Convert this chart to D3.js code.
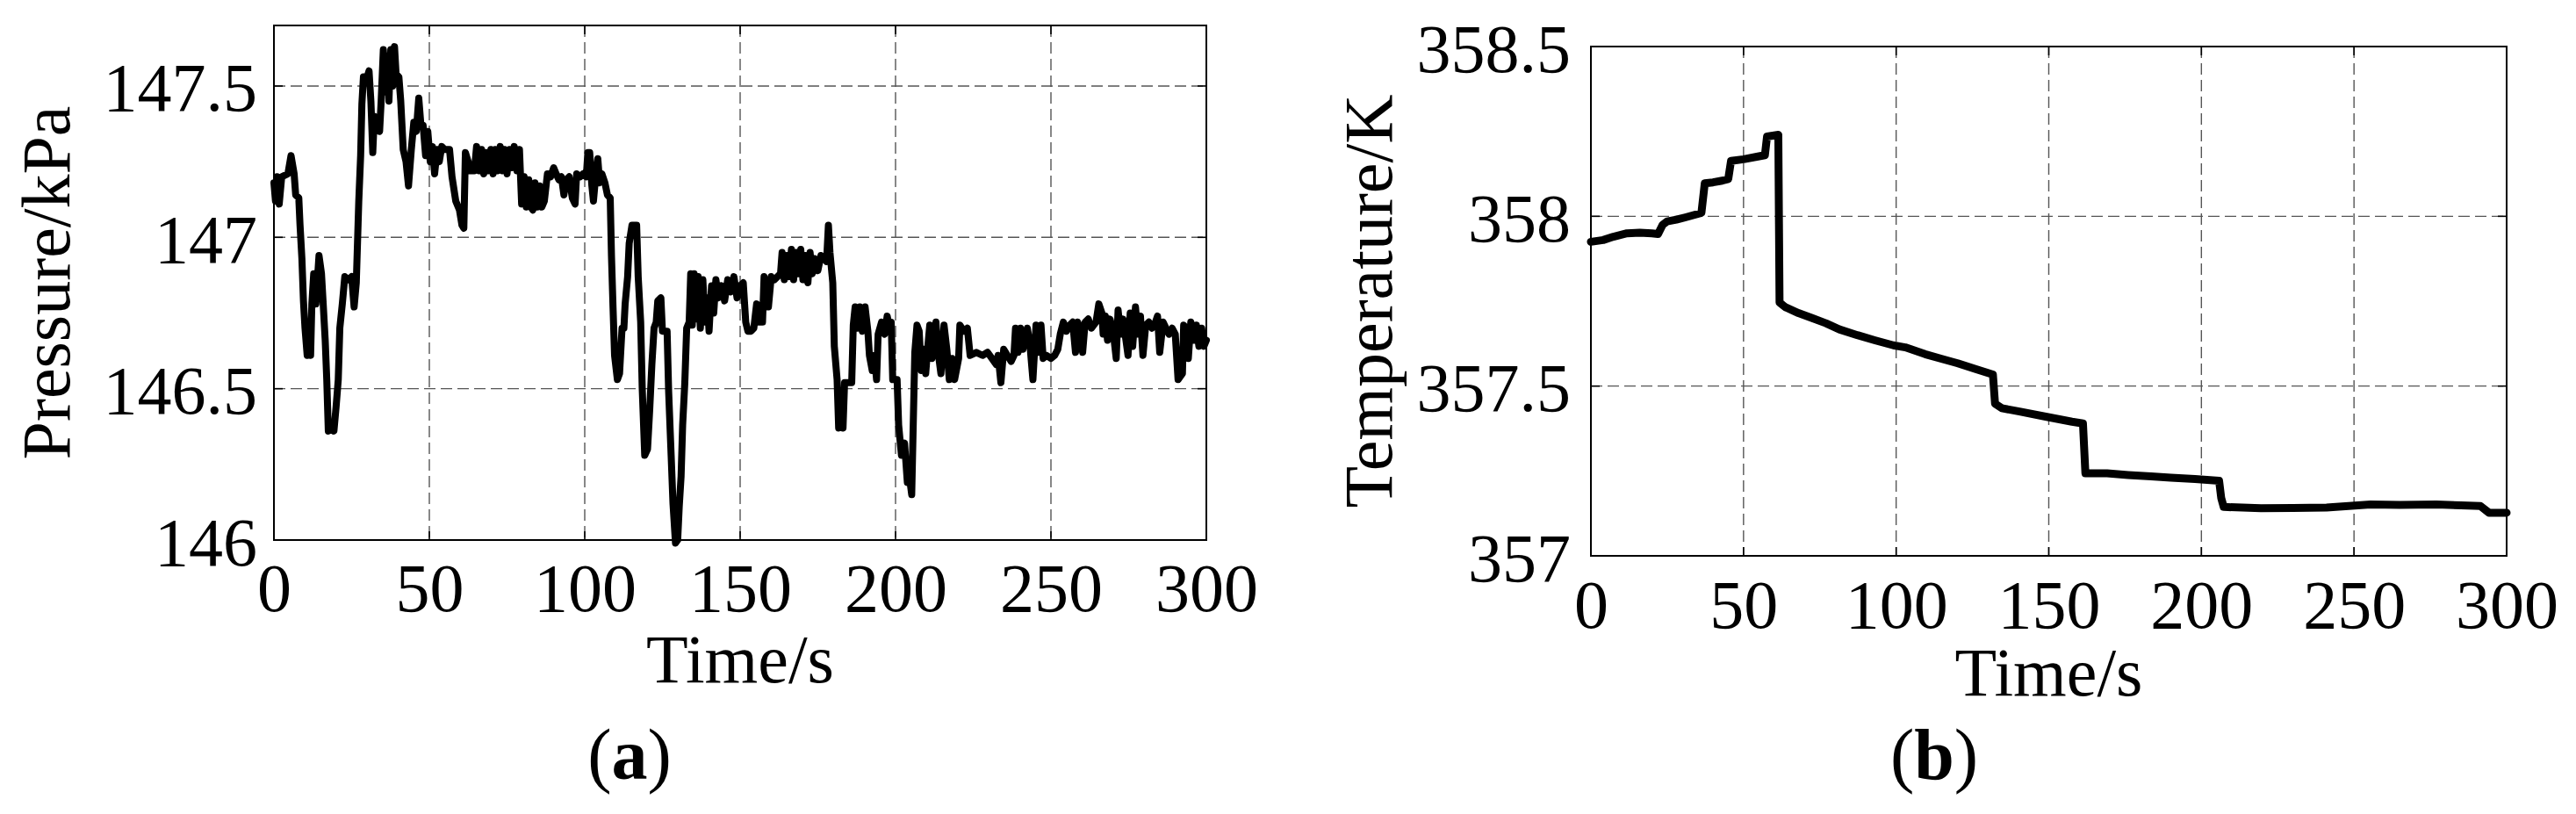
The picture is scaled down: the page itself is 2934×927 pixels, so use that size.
<!DOCTYPE html>
<html><head><meta charset="utf-8">
<script src="https://cdn.jsdelivr.net/npm/d3@7"></script>
<style>
body{margin:0;background:#fff}
svg{display:block}
text{font-family:"Liberation Serif","Times New Roman",serif;fill:#000}
</style>
</head><body>
<svg id="chart" width="2934" height="927"></svg>
<script>
// ---------- data ----------
const timeTicks = [0, 50, 100, 150, 200, 250, 300];
const timeTickLabels = ["0", "50", "100", "150", "200", "250", "300"];

const pressureTicks = [146, 146.5, 147, 147.5];
const pressureTickLabels = ["146", "146.5", "147", "147.5"];
const pressureRange = [146, 147.7];

const temperatureTicks = [357, 357.5, 358, 358.5];
const temperatureTickLabels = ["357", "357.5", "358", "358.5"];
const temperatureRange = [357, 358.5];

const pressureTimes = [0,0.5,1,1.7,2.5,4.5,5.5,6.5,7,8,8.4,9,9.5,10,10.7,11.3,11.8,12.2,12.8,13.5,14.5,15.3,15.8,16.5,17,17.5,18.5,19.3,20,20.7,21.2,22,22.8,24,25,25.8,26.5,27.3,27.9,28.3,28.8,30,30.6,31.2,31.8,32.3,33,34,34.5,35.2,36,36.5,37,37.6,38.2,38.8,39.3,40.2,40.8,41.6,42.5,43.3,44.2,45,45.8,46.6,47.3,48,48.8,49.5,50.3,51,51.7,52.5,53.2,54,55,56.5,57.3,58.5,59.7,60.5,61.1,61.6,62.5,63,64.5,65.2,66,66.8,67.5,68.2,69,69.8,70.5,71.2,72,72.8,73.5,74.2,75,75.8,76.5,77.3,78.2,79,79.7,80.5,81.2,82,82.7,83.3,84,84.7,85.5,86.2,87,88,89,90,90.8,91.7,92.5,93.3,94,95,96,96.9,97.4,98.5,99.5,100.5,101,101.6,102.3,102.8,103.5,104.2,104.8,105.5,106.5,107.3,108.2,108.6,109.1,109.6,110.5,111.2,112,112.6,113,113.8,114.3,115.2,116.7,117.2,118,118.5,119.3,120.2,120.9,121.6,122.3,123,123.5,124.5,125,126.5,127,127.8,128.4,129.2,129.9,130.4,131,131.5,132.2,132.8,133.6,134.1,134.6,135.2,135.8,136.5,137.2,138,138.7,139.4,140,140.8,141.5,142.2,143,144,145,146,147,148,149,150,151,151.8,152.5,153.5,154.4,155.3,156,157.2,157.7,158.5,159.1,160,161,162,163,163.5,164.2,165,165.8,166.5,167.2,168,168.8,169.5,170.2,171,171.8,172.5,173.2,174,175,176,177,177.8,178.4,178.9,179.8,180.3,181.2,181.7,182.4,183.1,183.6,185.9,186.4,187,187.8,188.5,189.3,190.2,191.1,191.6,192.5,193.2,193.9,194.4,195.5,196.5,197.3,198.1,198.6,199.1,200.5,201,201.9,202.9,203.8,204.7,205.2,206.2,206.9,207.6,208.3,209,209.7,210.4,211,211.7,212.4,213,213.7,214.6,215.6,216.5,217.3,218.2,219,220.3,220.7,222,223.1,224,226,228,229.6,231,232.4,233,233.9,234.8,236,237.2,238.1,238.6,239.4,240.2,241,242.4,243.2,244.2,245.2,246,246.8,247.5,248.5,250,251.2,252.2,253,254,255,256,257,257.9,258.6,259.3,260.2,261,262,263,264.5,265.4,266.4,266.8,267.5,268.2,269,270,271,271.6,272.4,273.2,274.8,275.5,276.3,277.2,278,278.8,279.6,280.5,281.5,282.5,283.3,284.3,285,286.1,287,288,289,290,290.9,292.3,292.7,293.5,294.2,295,296,296.8,297.6,298.5,299.2,300];
const pressureValues = [147.18,147.12,147.2,147.11,147.2,147.21,147.27,147.21,147.14,147.13,147.04,146.93,146.79,146.7,146.61,146.7,146.61,146.78,146.88,146.78,146.94,146.88,146.79,146.66,146.53,146.36,146.38,146.36,146.44,146.53,146.7,146.78,146.87,146.86,146.87,146.77,146.85,147.12,147.27,147.44,147.53,147.53,147.55,147.45,147.28,147.4,147.37,147.35,147.45,147.62,147.48,147.6,147.45,147.62,147.5,147.63,147.54,147.53,147.45,147.29,147.25,147.17,147.29,147.38,147.35,147.46,147.37,147.37,147.27,147.35,147.25,147.3,147.21,147.29,147.25,147.3,147.29,147.29,147.2,147.12,147.09,147.04,147.03,147.28,147.25,147.22,147.22,147.3,147.22,147.29,147.21,147.28,147.22,147.29,147.21,147.29,147.22,147.3,147.22,147.29,147.21,147.29,147.23,147.3,147.22,147.29,147.11,147.2,147.1,147.19,147.1,147.09,147.18,147.1,147.17,147.1,147.12,147.21,147.2,147.23,147.21,147.19,147.2,147.14,147.19,147.2,147.13,147.11,147.21,147.2,147.21,147.2,147.28,147.28,147.17,147.12,147.2,147.26,147.18,147.21,147.18,147.14,147.13,146.94,146.77,146.61,146.53,146.55,146.7,146.7,146.78,146.87,146.98,147.04,147.04,146.87,146.72,146.5,146.28,146.3,146.43,146.58,146.7,146.72,146.79,146.8,146.69,146.69,146.49,146.28,146.12,145.99,146,146.11,146.21,146.38,146.52,146.7,146.72,146.88,146.71,146.88,146.73,146.87,146.7,146.86,146.72,146.8,146.69,146.84,146.75,146.86,146.8,146.84,146.79,146.86,146.82,146.87,146.8,146.84,146.85,146.72,146.69,146.69,146.7,146.78,146.72,146.72,146.87,146.84,146.77,146.87,146.86,146.87,146.88,146.95,146.86,146.94,146.87,146.96,146.86,146.95,146.88,146.96,146.86,146.94,146.85,146.95,146.88,146.93,146.89,146.94,146.93,146.92,147.04,146.95,146.85,146.64,146.53,146.37,146.45,146.37,146.52,146.52,146.71,146.77,146.7,146.77,146.69,146.77,146.69,146.61,146.56,146.61,146.53,146.68,146.72,146.68,146.74,146.7,146.72,146.53,146.53,146.38,146.28,146.32,146.19,146.19,146.15,146.62,146.71,146.69,146.56,146.63,146.55,146.64,146.71,146.6,146.66,146.72,146.62,146.55,146.71,146.63,146.53,146.6,146.53,146.6,146.71,146.69,146.7,146.61,146.62,146.61,146.62,146.6,146.58,146.61,146.52,146.63,146.61,146.59,146.61,146.7,146.62,146.7,146.63,146.7,146.65,146.53,146.71,146.62,146.71,146.6,146.61,146.6,146.61,146.63,146.68,146.72,146.69,146.71,146.72,146.62,146.72,146.7,146.62,146.72,146.73,146.7,146.72,146.78,146.75,146.68,146.74,146.66,146.73,146.69,146.6,146.76,146.68,146.73,146.61,146.75,146.64,146.77,146.68,146.74,146.61,146.71,146.72,146.7,146.71,146.74,146.62,146.72,146.7,146.68,146.7,146.68,146.53,146.55,146.71,146.7,146.6,146.72,146.66,146.71,146.64,146.7,146.64,146.66];

const temperatureTimes = [0,4,7.4,11.8,16,20,22,23.5,25,28,31,36.2,37.3,40,43,45,45.9,50,54.7,57,57.7,61.4,61.8,63.6,68,72.5,77,81.4,87.3,93,99.1,103,109.5,115,120.2,126,131.7,132.4,134.6,140.4,149,157.6,161.2,162,169.1,176,183.5,190,197.9,205.8,206.5,207.3,219.5,230,241,255.4,265,277,285,291.4,294.2,300];
const temperatureValues = [357.925,357.93,357.94,357.95,357.952,357.95,357.948,357.975,357.985,357.99,357.997,358.01,358.097,358.1,358.105,358.11,358.163,358.168,358.176,358.18,358.235,358.24,357.746,357.733,357.715,357.7,357.685,357.667,357.65,357.635,357.62,357.614,357.594,357.58,357.567,357.55,357.534,357.448,357.435,357.425,357.41,357.395,357.39,357.243,357.243,357.238,357.234,357.23,357.226,357.221,357.17,357.144,357.14,357.141,357.142,357.151,357.15,357.151,357.149,357.147,357.127,357.127];

// ---------- drawing ----------
const svg = d3.select("#chart");
svg.append("rect").attr("width", 2934).attr("height", 927).attr("fill", "#fff");
const FS = 78;

function panel(cfg) {
  const g = svg.append("g");
  const x = d3.scaleLinear().domain([0, 300]).range([cfg.left, cfg.right]);
  const y = d3.scaleLinear().domain(cfg.yDomain).range([cfg.bottom, cfg.top]);

  // grid
  g.append("g").selectAll("line").data(timeTicks.filter(t => t > 0 && t < 300)).join("line")
    .attr("x1", d => x(d)).attr("x2", d => x(d)).attr("y1", cfg.top).attr("y2", cfg.bottom)
    .attr("stroke", "#555").attr("stroke-width", 1.4).attr("stroke-dasharray", "13,6");
  g.append("g").selectAll("line").data(cfg.yTicks.filter(v => v > cfg.yDomain[0] && v < cfg.yDomain[1])).join("line")
    .attr("x1", cfg.left).attr("x2", cfg.right).attr("y1", d => y(d)).attr("y2", d => y(d))
    .attr("stroke", "#555").attr("stroke-width", 1.4).attr("stroke-dasharray", "13,6");

  // inward ticks
  const tl = 10;
  const tk = g.append("g").attr("stroke", "#000").attr("stroke-width", 1.6);
  timeTicks.forEach(t => {
    tk.append("line").attr("x1", x(t)).attr("x2", x(t)).attr("y1", cfg.bottom).attr("y2", cfg.bottom - tl);
    tk.append("line").attr("x1", x(t)).attr("x2", x(t)).attr("y1", cfg.top).attr("y2", cfg.top + tl);
  });
  cfg.yTicks.forEach(v => {
    tk.append("line").attr("x1", cfg.left).attr("x2", cfg.left + tl).attr("y1", y(v)).attr("y2", y(v));
    tk.append("line").attr("x1", cfg.right).attr("x2", cfg.right - tl).attr("y1", y(v)).attr("y2", y(v));
  });

  // frame
  g.append("rect").attr("x", cfg.left).attr("y", cfg.top)
    .attr("width", cfg.right - cfg.left).attr("height", cfg.bottom - cfg.top)
    .attr("fill", "none").attr("stroke", "#000").attr("stroke-width", 2);

  // data line
  const pts = cfg.times.map((t, i) => [t, cfg.values[i]]);
  g.append("path").datum(pts)
    .attr("d", d3.line().x(d => x(d[0])).y(d => y(d[1])))
    .attr("fill", "none").attr("stroke", "#000").attr("stroke-width", cfg.lineWidth)
    .attr("stroke-linejoin", "round").attr("stroke-linecap", "round");

  // x axis labels
  const xa = g.append("g").attr("transform", `translate(0,${cfg.bottom})`)
    .call(d3.axisBottom(x).tickValues(timeTicks).tickFormat((d, i) => timeTickLabels[i]).tickSize(0));
  xa.select(".domain").remove();
  xa.selectAll("text").attr("y", cfg.xLabelOffset).attr("dy", null)
    .style("font-size", FS + "px").style("font-family", "Liberation Serif");

  // y axis labels
  const ya = g.append("g").attr("transform", `translate(${cfg.left},0)`)
    .call(d3.axisLeft(y).tickValues(cfg.yTicks).tickFormat((d, i) => cfg.yLabels[i]).tickSize(0));
  ya.select(".domain").remove();
  ya.selectAll("text").attr("x", -cfg.yLabelGap).attr("y", 28).attr("dy", null)
    .style("font-size", FS + "px").style("font-family", "Liberation Serif");

  // titles
  g.append("text").attr("x", (cfg.left + cfg.right) / 2).attr("y", cfg.xTitleY)
    .attr("text-anchor", "middle").style("font-size", FS + "px").text("Time/s");
  g.append("text").attr("transform", `translate(${cfg.yTitleX},${(cfg.top + cfg.bottom) / 2}) rotate(-90)`)
    .attr("text-anchor", "middle").style("font-size", FS + "px").text(cfg.yTitle);

  // caption
  const cap = g.append("text").attr("x", cfg.captionX).attr("y", 887)
    .attr("text-anchor", "middle").style("font-size", "82px");
  cap.append("tspan").text("(");
  cap.append("tspan").attr("font-weight", "bold").text(cfg.caption);
  cap.append("tspan").text(")");
}

panel({
  left: 312, right: 1374, top: 29, bottom: 615,
  yDomain: pressureRange, yTicks: pressureTicks, yLabels: pressureTickLabels, yLabelGap: 19,
  times: pressureTimes, values: pressureValues, lineWidth: 8,
  xLabelOffset: 81, xTitleY: 777, yTitle: "Pressure/kPa", yTitleX: 79,
  caption: "a", captionX: 717
});
panel({
  left: 1812, right: 2855, top: 53, bottom: 633,
  yDomain: temperatureRange, yTicks: temperatureTicks, yLabels: temperatureTickLabels, yLabelGap: 23,
  times: temperatureTimes, values: temperatureValues, lineWidth: 9,
  xLabelOffset: 82, xTitleY: 792, yTitle: "Temperature/K", yTitleX: 1585,
  caption: "b", captionX: 2203
});
</script>
</body></html>
